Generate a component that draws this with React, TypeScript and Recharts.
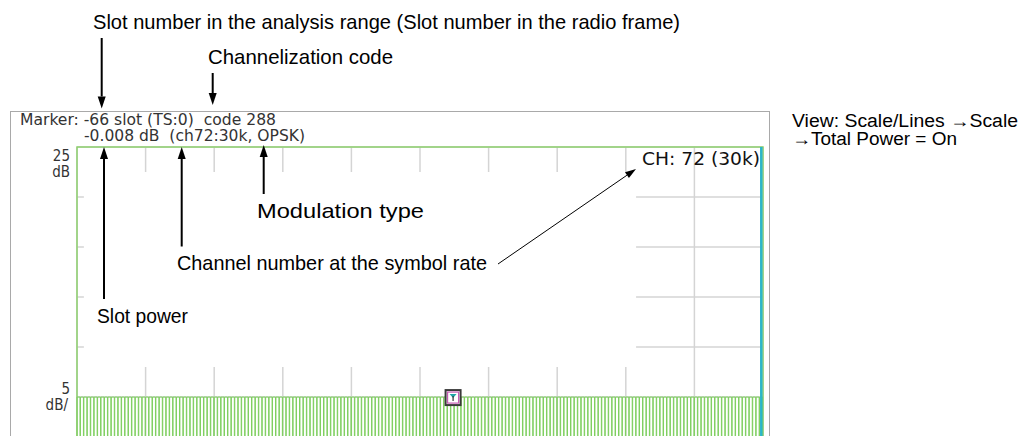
import React from 'react'
import { ComposedChart, Bar, XAxis, YAxis, CartesianGrid, ReferenceArea, ReferenceLine, ReferenceDot } from 'recharts'

// slots shown in the analysis range, one bar per slot
const slotStart = -175
const slotCount = 200
const slots = Array.from({ length: slotCount }, (_, i) => slotStart + i)

// slot power in dB (flat at 0 dB)
const slotPower = [
  0, 0, 0, 0, 0, 0, 0, 0, 0, 0, 0, 0, 0, 0, 0, 0, 0, 0, 0, 0,
  0, 0, 0, 0, 0, 0, 0, 0, 0, 0, 0, 0, 0, 0, 0, 0, 0, 0, 0, 0,
  0, 0, 0, 0, 0, 0, 0, 0, 0, 0, 0, 0, 0, 0, 0, 0, 0, 0, 0, 0,
  0, 0, 0, 0, 0, 0, 0, 0, 0, 0, 0, 0, 0, 0, 0, 0, 0, 0, 0, 0,
  0, 0, 0, 0, 0, 0, 0, 0, 0, 0, 0, 0, 0, 0, 0, 0, 0, 0, 0, 0,
  0, 0, 0, 0, 0, 0, 0, 0, 0, -0.008, 0, 0, 0, 0, 0, 0, 0, 0, 0, 0,
  0, 0, 0, 0, 0, 0, 0, 0, 0, 0, 0, 0, 0, 0, 0, 0, 0, 0, 0, 0,
  0, 0, 0, 0, 0, 0, 0, 0, 0, 0, 0, 0, 0, 0, 0, 0, 0, 0, 0, 0,
  0, 0, 0, 0, 0, 0, 0, 0, 0, 0, 0, 0, 0, 0, 0, 0, 0, 0, 0, 0,
  0, 0, 0, 0, 0, 0, 0, 0, 0, 0, 0, 0, 0, 0, 0, 0, 0, 0, 0, 0,
]

const topDb = 25
const floorDb = -25
const yTicks = [25, 20, 15, 10, 5, 0, -5, -10, -15, -20, -25]
const xDivisions = 10
const scaleLabel = '5'
const markerSlot = -66
const markerPower = -0.008
const firstSlot = slots[0]
const lastSlot = slots[slots.length - 1]
// the callout labels sit on a white patch that hides the grid
const coverSlots = [-173, -13]
const coverDb = [3, 22.5]

const data = slots.map((s, i) => ({ slot: s, range: [floorDb, slotPower[i]] }))

const screenFont = '"DejaVu Sans Condensed", "DejaVu Sans", sans-serif'
const calloutFont = '"Liberation Sans Narrow", "Liberation Sans", Arial, sans-serif'

const YTick = (props: any) => {
  const { x, y, payload } = props
  const st = { fontFamily: screenFont, fontSize: 15, fill: '#333' }
  if (payload.value === topDb)
    return (
      <g>
        <text x={x} y={y + 14} textAnchor="end" style={st}>25</text>
        <text x={x} y={y + 30} textAnchor="end" style={st}>dB</text>
      </g>
    )
  if (payload.value === 0)
    return (
      <g>
        <text x={x} y={y - 3} textAnchor="end" style={st}>{scaleLabel}</text>
        <text x={x - 2} y={y + 13} textAnchor="end" style={st}>dB/</text>
      </g>
    )
  return <g />
}

const MarkerShape = (props: any) => {
  const { cx, cy } = props
  return (
    <g>
      <rect x={cx - 7} y={cy - 7} width={15} height={15} fill="#fff" stroke="#3a3a3a" strokeWidth={2} />
      <rect x={cx - 5} y={cy - 5} width={11} height={11} fill="none" stroke="#c65cb4" strokeWidth={1.2} />
      <path d={`M${cx - 3},${cy - 3} L${cx + 4},${cy - 3} L${cx + 0.5},${cy + 1} Z`} fill="#1fa5a8" />
      <line x1={cx + 0.5} y1={cy - 1} x2={cx + 0.5} y2={cy + 4} stroke="#333" strokeWidth={1.2} />
    </g>
  )
}

function Arrow({ x1, y1, x2, y2, w = 2, head = 12, half = 4 }: any) {
  const dx = x2 - x1
  const dy = y2 - y1
  const len = Math.hypot(dx, dy)
  const ux = dx / len
  const uy = dy / len
  const bx = x2 - ux * head
  const by = y2 - uy * head
  const px = -uy * half
  const py = ux * half
  return (
    <g>
      <line x1={x1} y1={y1} x2={bx} y2={by} stroke="#000" strokeWidth={w} />
      <polygon points={`${x2},${y2} ${bx + px},${by + py} ${bx - px},${by - py}`} fill="#000" />
    </g>
  )
}

function Callout({ x, y, len, size = 21, children }: any) {
  return (
    <text x={x} y={y} textLength={len} lengthAdjust="spacingAndGlyphs" style={{ fontFamily: calloutFont, fontSize: size, fill: '#000' }}>
      {children}
    </text>
  )
}

function Screen({ x, y, len, children }: any) {
  return (
    <text x={x} y={y} textLength={len} lengthAdjust="spacingAndGlyphs" style={{ fontFamily: screenFont, fontSize: 15, fill: '#333', whiteSpace: 'pre' }}>
      {children}
    </text>
  )
}

const divisionLines = ({ offset }: any) =>
  Array.from({ length: xDivisions + 1 }, (_, k) => offset.left + (offset.width * k) / xDivisions)

export default function App() {
  return (
    <div style={{ position: 'fixed', left: 0, top: 0, width: 1031, height: 436, overflow: 'hidden', background: '#fff' }}>
      <div style={{ position: 'absolute', left: 10, top: 111, width: 758, height: 400, border: '1px solid #a9a9a9' }} />
      <div style={{ position: 'absolute', left: 0, top: 0 }}>
        <ComposedChart width={1031} height={660} data={data} margin={{ top: 147, left: 10, right: 268, bottom: 13 }} barCategoryGap={0} barGap={0}>
          <XAxis dataKey="slot" type="category" hide />
          <YAxis domain={[floorDb, topDb]} ticks={yTicks} width={67} axisLine={false} tickLine={false} tickSize={0} tickMargin={7} tick={<YTick />} interval={0} />
          <CartesianGrid stroke="#d4d4d4" strokeWidth={1.5} verticalCoordinatesGenerator={divisionLines} />
          <Bar dataKey="range" fill="none" stroke="#7fcf60" strokeWidth={1} isAnimationActive={false} />
          <ReferenceArea x1={coverSlots[0]} x2={coverSlots[1]} y1={coverDb[0]} y2={coverDb[1]} fill="#fff" fillOpacity={1} stroke="none" />
          <ReferenceArea x1={firstSlot} x2={lastSlot} y1={floorDb} y2={topDb} fill="none" stroke="#8fd16f" strokeWidth={1.5} />
          <ReferenceLine x={lastSlot} stroke="#2bb6c9" strokeWidth={2.5} />
          <ReferenceDot x={markerSlot} y={markerPower} shape={<MarkerShape />} />
        </ComposedChart>
      </div>
      <svg width={1031} height={436} style={{ position: 'absolute', left: 0, top: 0, pointerEvents: 'none' }}>
        <Screen x={20} y={125} len={256}>Marker: -66 slot (TS:0)  code 288</Screen>
        <Screen x={84} y={141} len={221}>-0.008 dB  (ch72:30k, OPSK)</Screen>
        <text x={642} y={165} textLength={118} lengthAdjust="spacingAndGlyphs" style={{ fontFamily: screenFont, fontSize: 17, fill: '#111' }}>CH: 72 (30k)</text>

        <Callout x={93} y={28.5} len={587}>Slot number in the analysis range (Slot number in the radio frame)</Callout>
        <Callout x={208} y={63.5} len={185}>Channelization code</Callout>
        <Callout x={792} y={127} len={226} size={18}>View: Scale/Lines →Scale</Callout>
        <Callout x={792} y={145} len={165} size={18}>→Total Power = On</Callout>
        <Callout x={257} y={218} len={167}>Modulation type</Callout>
        <Callout x={177} y={270} len={310}>Channel number at the symbol rate</Callout>
        <Callout x={97} y={323} len={91}>Slot power</Callout>

        <Arrow x1={101.7} y1={38} x2={101.7} y2={108.5} />
        <Arrow x1={212.7} y1={73} x2={212.7} y2={105} />
        <Arrow x1={104} y1={299} x2={104} y2={147} />
        <Arrow x1={181.7} y1={246.5} x2={181.7} y2={147} />
        <Arrow x1={263.7} y1={194} x2={263.7} y2={145} />
        <Arrow x1={498} y1={264} x2={636} y2={169} w={1} head={11} half={3.5} />
      </svg>
    </div>
  )
}
